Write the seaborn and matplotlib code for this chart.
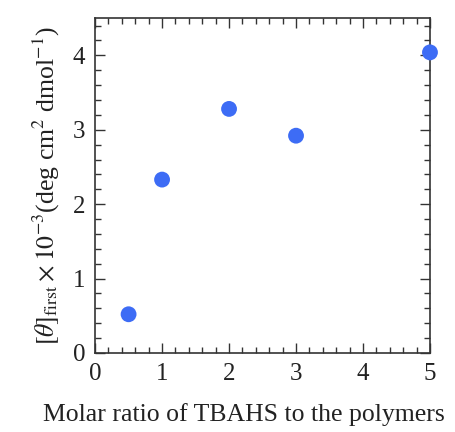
import matplotlib
matplotlib.use("Agg")
import matplotlib.pyplot as plt
import seaborn as sns
import pandas as pd
from matplotlib.ticker import MultipleLocator

# Data
molar_ratio = [0.5, 1, 2, 3, 5]
theta_first = [0.52, 2.33, 3.28, 2.92, 4.04]

df = pd.DataFrame({'ratio': molar_ratio, 'theta': theta_first})

sns.set_style('ticks')
plt.rcParams['font.family'] = ['Liberation Serif', 'DejaVu Serif']
plt.rcParams['mathtext.fontset'] = 'stix'

fig = plt.figure(figsize=(4.55, 4.32), dpi=100)
ax = fig.add_axes([0.209, 0.183, 0.736, 0.775])

sns.scatterplot(data=df, x='ratio', y='theta', ax=ax, color='#3d6cf5',
                s=130, edgecolor='none', zorder=3, clip_on=False)

ax.set_xlim(0, 5)
ax.set_ylim(0, 4.5)
ax.xaxis.set_major_locator(MultipleLocator(1))
ax.xaxis.set_minor_locator(MultipleLocator(0.2))
ax.yaxis.set_major_locator(MultipleLocator(1))
ax.yaxis.set_minor_locator(MultipleLocator(0.2))
ax.tick_params(which='both', direction='in', top=True, right=True, colors='#333333', labelcolor='#222222')
ax.tick_params(which='major', length=7, width=1, labelsize=18, pad=7)
ax.tick_params(which='minor', length=4, width=1)
for sp in ax.spines.values():
    sp.set_color('#333333')
    sp.set_linewidth(1.2)

ax.set_xlabel('Molar ratio of TBAHS to the polymers', fontsize=18.5, color='#222222')
ax.xaxis.set_label_coords(0.445, -0.15)
ax.set_ylabel(r'$[\theta]_{\rm first}\times 10^{-3}$(deg cm$^{2}$ dmol$^{-1}$)', fontsize=18.5, color='#222222', labelpad=8)

plt.savefig('out.png', dpi=100)
